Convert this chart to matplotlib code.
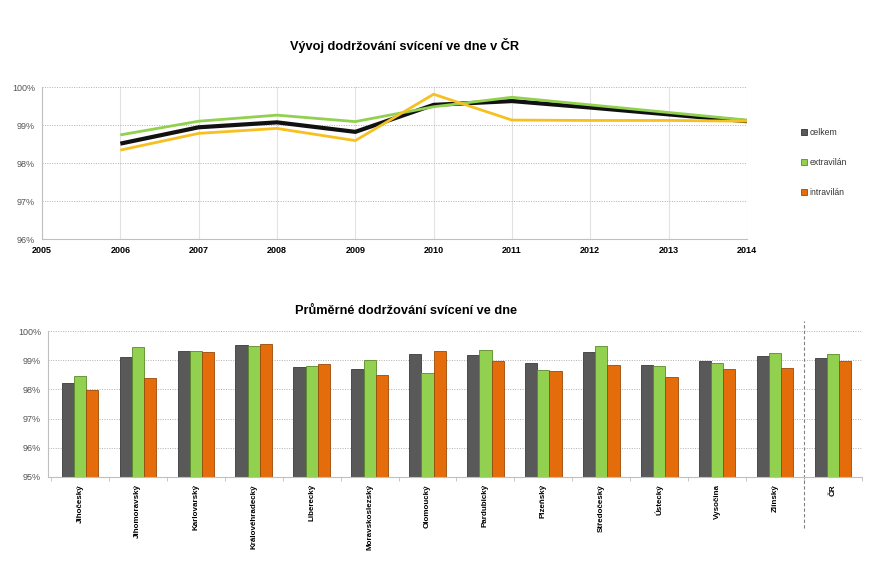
import numpy as np
import matplotlib
matplotlib.use('Agg')
import matplotlib.pyplot as plt
from matplotlib.patches import Patch
from matplotlib.ticker import FuncFormatter
import matplotlib.transforms as mtransforms

plt.rcParams['font.family'] = ['Liberation Sans', 'DejaVu Sans']

# line chart data (% of vehicles with lights on)
years = [2006, 2007, 2008, 2009, 2010, 2011, 2012, 2013, 2014]
celkem_line = [98.51, 98.94, 99.07, 98.82, 99.53, 99.63, 99.46, 99.28, 99.10]
extra_line = [98.74, 99.10, 99.26, 99.09, 99.48, 99.73, 99.53, 99.33, 99.13]
intra_line = [98.34, 98.78, 98.91, 98.59, 99.81, 99.13, 99.12, 99.12, 99.10]

# bar chart data by region
regions = ['Jihočeský', 'Jihomoravský', 'Karlovarský', 'Královéhradecký', 'Liberecký',
           'Moravskoslezský', 'Olomoucký', 'Pardubický', 'Plzeňský', 'Středočeský',
           'Ústecký', 'Vysočina', 'Zlínský', 'ČR']
celkem_bar = [98.23, 99.11, 99.31, 99.52, 98.78, 98.71, 99.23, 99.17, 98.91, 99.28, 98.83, 98.96, 99.16, 99.09]
extra_bar = [98.47, 99.46, 99.32, 99.48, 98.79, 99.02, 98.56, 99.36, 98.67, 99.48, 98.80, 98.91, 99.24, 99.23]
intra_bar = [97.99, 98.38, 99.28, 99.55, 98.87, 98.51, 99.32, 98.97, 98.62, 98.84, 98.42, 98.71, 98.72, 98.97]

c_gray = '#595959'
c_green = '#92D050'
c_orange = '#E46C0A'
c_yellow = '#F5C020'
pct = FuncFormatter(lambda v, p: '%d%%' % round(v))

fig = plt.figure(figsize=(8.86, 5.74), dpi=100)

# --- top: line chart ---
ax1 = fig.add_axes([0.0474, 0.5836, 0.7956, 0.2648])
ax1.plot(years, celkem_line, color='#111111', lw=3.0, solid_capstyle='butt')
ax1.plot(years, extra_line, color=c_green, lw=2.0, solid_capstyle='butt')
ax1.plot(years, intra_line, color=c_yellow, lw=2.0, solid_capstyle='butt')
ax1.set_xlim(2005, 2014)
ax1.set_ylim(96, 100)
ax1.set_xticks(range(2005, 2015))
ax1.set_yticks([96, 97, 98, 99, 100])
ax1.yaxis.set_major_formatter(pct)
ax1.grid(axis='y', color='#b0b0b0', ls=(0, (1, 1.5)), lw=0.7)
ax1.grid(axis='x', color='#e2e2e2', ls='-', lw=0.8)
ax1.set_axisbelow(True)
for s in ['top', 'right']:
    ax1.spines[s].set_visible(False)
for s in ['left', 'bottom']:
    ax1.spines[s].set_color('#bfbfbf')
ax1.tick_params(axis='both', length=0, pad=5)
ax1.tick_params(axis='y', labelsize=6.5, labelcolor='#555555')
for lab in ax1.get_xticklabels():
    lab.set_fontsize(6.5)
    lab.set_fontweight('bold')
ax1.set_title('Vývoj dodržování svícení ve dne v ČR', fontsize=9.2, fontweight='bold', pad=27,
              x=0.515)

handles = [Patch(facecolor=c_gray, edgecolor='#333333', lw=0.6, label='celkem'),
           Patch(facecolor=c_green, edgecolor='#5a8a2a', lw=0.6, label='extravilán'),
           Patch(facecolor=c_orange, edgecolor='#9a4a0a', lw=0.6, label='intravilán')]
fig.legend(handles=handles, loc='upper left', bbox_to_anchor=(0.895, 0.79), frameon=False,
           fontsize=6.2, handlelength=0.7, handleheight=0.7, handletextpad=0.3,
           labelspacing=2.4, labelcolor='#333333')

# --- bottom: grouped bars ---
ax2 = fig.add_axes([0.0542, 0.169, 0.9188, 0.2543])
x = np.arange(len(regions))
w = 0.21
ax2.bar(x - w, celkem_bar, w, color=c_gray, edgecolor='#3a3a3a', lw=0.6)
ax2.bar(x, extra_bar, w, color=c_green, edgecolor='#5a8a2a', lw=0.6)
ax2.bar(x + w, intra_bar, w, color=c_orange, edgecolor='#9a4a0a', lw=0.6)
ax2.set_xlim(-0.55, 13.5)
ax2.set_ylim(95, 100)
ax2.set_yticks([95, 96, 97, 98, 99, 100])
ax2.yaxis.set_major_formatter(pct)
ax2.grid(axis='y', color='#b0b0b0', ls=(0, (1, 1.5)), lw=0.7)
ax2.set_axisbelow(True)
ax2.set_xticks(x)
ax2.set_xticklabels(regions, rotation=90, fontsize=5.8, fontweight='bold')
ax2.set_xticks(np.arange(-0.5, 13.6, 1), minor=True)
ax2.tick_params(axis='x', which='major', length=0, pad=5)
ax2.tick_params(axis='x', which='minor', length=3, color='#bfbfbf')
ax2.tick_params(axis='y', length=0, labelsize=6.5, labelcolor='#555555', pad=5)
for s in ['top', 'right']:
    ax2.spines[s].set_visible(False)
for s in ['left', 'bottom']:
    ax2.spines[s].set_color('#bfbfbf')
ax2.set_title('Průměrné dodržování svícení ve dne', fontsize=9.2, fontweight='bold', pad=12,
              x=0.44)

# dashed separator before the national total
trans = mtransforms.blended_transform_factory(ax2.transData, ax2.transAxes)
ax2.plot([12.5, 12.5], [-0.35, 1.07], transform=trans, color='#808080', ls=(0, (3, 2)),
         lw=0.8, clip_on=False)

fig.savefig('out.png', dpi=100)
